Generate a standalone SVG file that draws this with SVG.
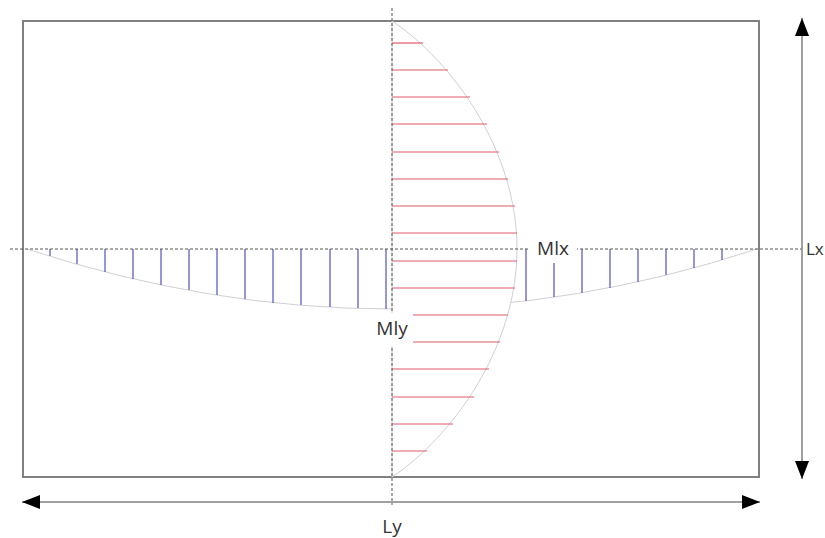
<svg xmlns="http://www.w3.org/2000/svg" width="825" height="538" viewBox="0 0 825 538">
<style>
.frame{fill:none;stroke:#808080;stroke-width:2}
.axis{fill:none;stroke:#555;stroke-width:1;stroke-dasharray:3 2}
.curve{fill:none;stroke:#d0d0d0;stroke-width:1}
.red line{stroke:#e05a6a;stroke-width:1.2}
.blue line{stroke:#5050c0;stroke-width:1.2}
.dim{fill:none;stroke:#808080;stroke-width:1.5}
.lbl{font-family:"Open Sans","Liberation Sans",sans-serif;font-size:19px;fill:#333}
</style>
<defs>
<marker id="ah" viewBox="0 0 18 14" refX="18" refY="7" markerWidth="18" markerHeight="14" markerUnits="userSpaceOnUse" orient="auto-start-reverse">
<path d="M0,0 L18,7 L0,14 Z" fill="#000"/>
</marker>
</defs>
<rect width="825" height="538" fill="#fff"/>
<g id="slab">
<rect class="frame" x="23" y="21" width="736" height="456"/>
</g>
<g id="mly-diagram" class="blue">
<path class="curve" d="M27,249 Q392,369 757,249"/>
<line x1="50" y1="249" x2="50" y2="256"/>
<line x1="77" y1="249" x2="77" y2="264"/>
<line x1="105" y1="249" x2="105" y2="272"/>
<line x1="133" y1="249" x2="133" y2="279"/>
<line x1="161" y1="249" x2="161" y2="285"/>
<line x1="189" y1="249" x2="189" y2="290"/>
<line x1="217" y1="249" x2="217" y2="295"/>
<line x1="245" y1="249" x2="245" y2="299"/>
<line x1="273" y1="249" x2="273" y2="303"/>
<line x1="301" y1="249" x2="301" y2="305"/>
<line x1="330" y1="249" x2="330" y2="307"/>
<line x1="358" y1="249" x2="358" y2="308"/>
<line x1="386" y1="249" x2="386" y2="309"/>
<line x1="526" y1="249" x2="526" y2="301"/>
<line x1="554" y1="249" x2="554" y2="297"/>
<line x1="582" y1="249" x2="582" y2="293"/>
<line x1="610" y1="249" x2="610" y2="288"/>
<line x1="638" y1="249" x2="638" y2="282"/>
<line x1="666" y1="249" x2="666" y2="275"/>
<line x1="694" y1="249" x2="694" y2="268"/>
<line x1="722" y1="249" x2="722" y2="260"/>
</g>
<g id="mlx-diagram" class="red">
<path d="M392,21 C452,61 517,150 517,249 C517,348 452,437 392,477 Z" fill="#fff" stroke="#d0d0d0" stroke-width="1"/>
<line x1="392" y1="43" x2="423" y2="43"/>
<line x1="392" y1="70" x2="448" y2="70"/>
<line x1="392" y1="97" x2="470" y2="97"/>
<line x1="392" y1="124" x2="487" y2="124"/>
<line x1="392" y1="152" x2="499" y2="152"/>
<line x1="392" y1="179" x2="508" y2="179"/>
<line x1="392" y1="206" x2="515" y2="206"/>
<line x1="392" y1="233" x2="517" y2="233"/>
<line x1="392" y1="261" x2="517" y2="261"/>
<line x1="392" y1="288" x2="515" y2="288"/>
<line x1="392" y1="315" x2="508" y2="315"/>
<line x1="392" y1="342" x2="500" y2="342"/>
<line x1="392" y1="369" x2="489" y2="369"/>
<line x1="392" y1="397" x2="474" y2="397"/>
<line x1="392" y1="424" x2="453" y2="424"/>
<line x1="392" y1="451" x2="427" y2="451"/>
</g>
<g id="connectors">
<line class="axis" x1="392" y1="8" x2="392" y2="505"/>
<line class="axis" x1="10" y1="249" x2="802" y2="249"/>
<line class="dim" x1="802" y1="18" x2="802" y2="479" marker-start="url(#ah)" marker-end="url(#ah)"/>
<line class="dim" x1="22" y1="502" x2="760" y2="502" marker-start="url(#ah)" marker-end="url(#ah)"/>
</g>
<g id="label-mlx">
<rect x="529" y="237" width="48" height="26" fill="#fff"/>
<text class="lbl" x="553" y="255" text-anchor="middle">Mlx</text>
</g>
<g id="label-mly">
<rect x="371" y="313" width="42" height="33" fill="#fff"/>
<text class="lbl" x="392" y="335" text-anchor="middle">Mly</text>
</g>
<g id="label-lx">
<text class="lbl" x="806" y="255" style="font-size:17px">Lx</text>
</g>
<g id="label-ly">
<text class="lbl" x="392" y="533" text-anchor="middle">Ly</text>
</g>
</svg>
